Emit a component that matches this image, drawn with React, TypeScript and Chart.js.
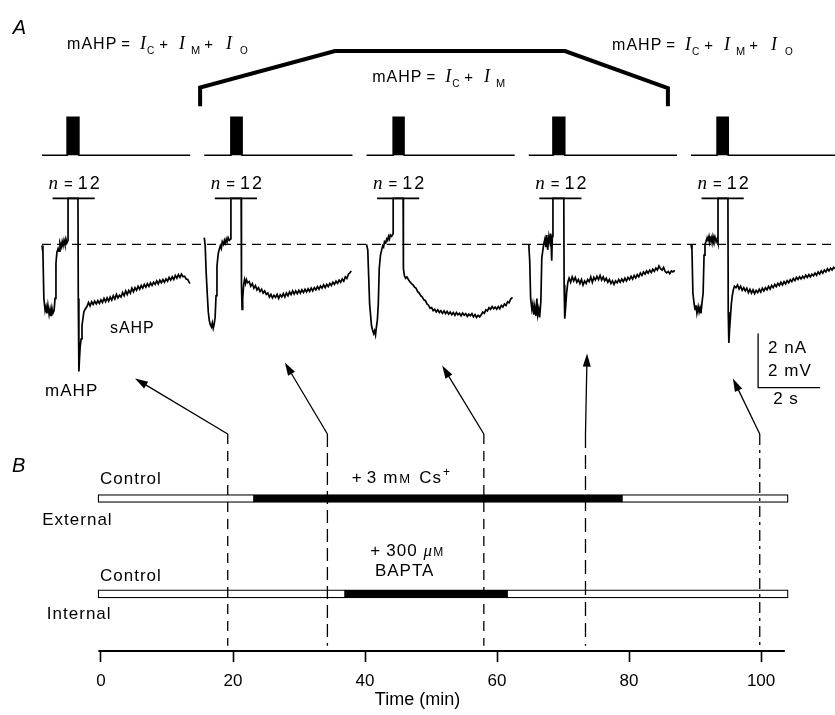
import React, { useEffect, useRef } from 'react';
import { Chart, registerables } from 'chart.js';

Chart.register(...registerables);

// ---------------- Panel B data (time in min) ----------------
const TIME_TICKS = [0, 20, 40, 60, 80, 100];
const TIME_AXIS_SPAN = [-0.4, 103.6];
const EXTERNAL_BOUNDS = [-0.45, 23.2, 78.9, 104.1]; // control | + 3 mM Cs+ | wash
const EXTERNAL_TREATED = [false, true, false];
const INTERNAL_BOUNDS = [-0.45, 37.0, 61.5, 104.1]; // control | + 300 uM BAPTA | after
const INTERNAL_TREATED = [false, true, false];
const SAMPLE_TIMES = [19.2, 34.3, 58.0, 73.4, 99.8];

// ---------------- Panel A data (sweep time in s, current in nA) ----------------
const SWEEP_1: number[][] = [
  [0, -0.04], [0.03, -0.3], [0.06, -2.0], [0.1, -2.45], [0.13, -2.3], [0.16, -2.55], [0.19, -2.25], [0.23, -2.6],
  [0.26, -2.4], [0.29, -2.65], [0.32, -2.35], [0.35, -2.55], [0.39, -2.45], [0.42, -2.0], [0.45, -0.7], [0.48, -0.3],
  [0.52, -0.15], [0.55, -0.25], [0.58, 0.05], [0.62, -0.1], [0.65, 0.1], [0.68, -0.05], [0.71, 0.15], [0.74, 0.0],
  [0.77, 0.2], [0.8, 0.05], [0.84, 0.15], [0.84, 1.7], [1.16, 1.7], [1.17, -2.0], [1.19, -4.7], [1.21, -4.2],
  [1.23, -3.8], [1.26, -3.5], [1.29, -3.0], [1.32, -2.75], [1.35, -2.5], [1.39, -2.4], [1.45, -2.3], [1.5, -2.15],
  [1.55, -2.28], [1.6, -2.12], [1.65, -2.22], [1.7, -2.1], [1.75, -2.2], [1.8, -2.08], [1.85, -2.18], [1.9, -2.05],
  [1.95, -2.15], [2.0, -2.0], [2.05, -2.12], [2.1, -1.98], [2.15, -2.1], [2.2, -1.95], [2.25, -2.06], [2.3, -1.9],
  [2.35, -2.02], [2.4, -1.85], [2.45, -1.98], [2.5, -1.88], [2.55, -1.95], [2.6, -1.78], [2.65, -1.9], [2.7, -1.72],
  [2.75, -1.85], [2.8, -1.7], [2.85, -1.8], [2.9, -1.62], [2.95, -1.75], [3.0, -1.6], [3.05, -1.7], [3.1, -1.55],
  [3.15, -1.66], [3.2, -1.52], [3.25, -1.62], [3.3, -1.48], [3.35, -1.58], [3.4, -1.45], [3.45, -1.55], [3.5, -1.42],
  [3.55, -1.52], [3.6, -1.4], [3.65, -1.48], [3.7, -1.35], [3.75, -1.46], [3.8, -1.32], [3.85, -1.42], [3.9, -1.3],
  [3.95, -1.4], [4.0, -1.28], [4.05, -1.36], [4.1, -1.22], [4.15, -1.32], [4.2, -1.2], [4.25, -1.3], [4.3, -1.15],
  [4.35, -1.25], [4.4, -1.12], [4.45, -1.22], [4.5, -1.1], [4.55, -1.2], [4.6, -1.18], [4.65, -1.28], [4.7, -1.3],
  [4.77, -1.45],
];
const SWEEP_2: number[][] = [
  [0, 0.25], [0.03, -0.05], [0.06, -1.0], [0.1, -1.9], [0.13, -2.5], [0.16, -2.8], [0.19, -2.95], [0.23, -3.05],
  [0.26, -2.9], [0.29, -3.1], [0.32, -2.95], [0.35, -2.7], [0.38, -1.9], [0.41, -0.8], [0.45, -0.35], [0.48, -0.2],
  [0.52, -0.05], [0.55, -0.15], [0.58, 0.1], [0.62, 0.0], [0.65, 0.15], [0.68, 0.05], [0.71, 0.2], [0.74, 0.1],
  [0.77, 0.25], [0.81, 0.15], [0.86, 0.2], [0.86, 1.7], [1.19, 1.7], [1.2, -1.5], [1.22, -2.4], [1.24, -2.0],
  [1.27, -1.5], [1.3, -1.3], [1.33, -1.45], [1.36, -1.3], [1.4, -1.42], [1.45, -1.38], [1.5, -1.55], [1.55, -1.45],
  [1.6, -1.62], [1.65, -1.52], [1.7, -1.68], [1.75, -1.6], [1.8, -1.74], [1.85, -1.66], [1.9, -1.8], [1.95, -1.72],
  [2.0, -1.85], [2.05, -1.8], [2.1, -1.95], [2.15, -1.85], [2.2, -1.98], [2.25, -1.88], [2.3, -1.96], [2.35, -1.85],
  [2.4, -2.0], [2.45, -1.86], [2.5, -1.94], [2.55, -1.82], [2.6, -1.95], [2.65, -1.8], [2.7, -1.9], [2.75, -1.76],
  [2.8, -1.86], [2.85, -1.72], [2.9, -1.84], [2.95, -1.72], [3.0, -1.82], [3.05, -1.7], [3.1, -1.8], [3.15, -1.68],
  [3.2, -1.78], [3.25, -1.66], [3.3, -1.76], [3.35, -1.64], [3.4, -1.74], [3.45, -1.62], [3.5, -1.72], [3.55, -1.6],
  [3.6, -1.68], [3.65, -1.56], [3.7, -1.66], [3.75, -1.54], [3.8, -1.62], [3.85, -1.5], [3.9, -1.6], [3.95, -1.48],
  [4.0, -1.56], [4.05, -1.44], [4.1, -1.52], [4.15, -1.4], [4.2, -1.48], [4.25, -1.36], [4.3, -1.44], [4.35, -1.32],
  [4.4, -1.4], [4.45, -1.28], [4.5, -1.36], [4.55, -1.2], [4.6, -1.26], [4.65, -1.1], [4.7, -1.05], [4.74, -0.98],
];
const SWEEP_3: number[][] = [
  [0, 0.0], [0.04, -0.2], [0.07, -1.2], [0.1, -2.2], [0.13, -2.6], [0.16, -3.0], [0.19, -3.15], [0.23, -3.3],
  [0.26, -3.2], [0.29, -3.35], [0.32, -3.05], [0.35, -2.8], [0.38, -2.2], [0.41, -0.9], [0.45, -0.4], [0.48, -0.25],
  [0.52, -0.05], [0.55, -0.1], [0.58, 0.1], [0.62, 0.05], [0.65, 0.2], [0.68, 0.15], [0.71, 0.3], [0.74, 0.2],
  [0.77, 0.35], [0.81, 0.3], [0.86, 0.4], [0.86, 1.7], [1.18, 1.7], [1.19, -0.9], [1.22, -1.15], [1.26, -1.25],
  [1.3, -1.2], [1.35, -1.3], [1.4, -1.38], [1.45, -1.45], [1.5, -1.5], [1.55, -1.58], [1.6, -1.62], [1.65, -1.75],
  [1.7, -1.8], [1.75, -1.9], [1.8, -1.95], [1.85, -2.05], [1.9, -2.08], [1.95, -2.2], [2.0, -2.25], [2.05, -2.36],
  [2.1, -2.34], [2.15, -2.45], [2.2, -2.4], [2.25, -2.5], [2.3, -2.42], [2.35, -2.52], [2.4, -2.45], [2.45, -2.55],
  [2.5, -2.46], [2.55, -2.56], [2.6, -2.48], [2.65, -2.58], [2.7, -2.5], [2.75, -2.6], [2.8, -2.52], [2.85, -2.62],
  [2.9, -2.52], [2.95, -2.6], [3.0, -2.55], [3.05, -2.64], [3.1, -2.54], [3.15, -2.62], [3.2, -2.56], [3.25, -2.66],
  [3.3, -2.58], [3.35, -2.64], [3.4, -2.56], [3.45, -2.68], [3.5, -2.6], [3.55, -2.7], [3.6, -2.62], [3.65, -2.68],
  [3.7, -2.6], [3.75, -2.5], [3.8, -2.55], [3.85, -2.42], [3.9, -2.46], [3.95, -2.34], [4.0, -2.4], [4.05, -2.3],
  [4.1, -2.38], [4.15, -2.32], [4.2, -2.4], [4.25, -2.3], [4.3, -2.38], [4.35, -2.26], [4.4, -2.32], [4.45, -2.2],
  [4.5, -2.26], [4.55, -2.12], [4.6, -2.16], [4.65, -2.02], [4.71, -1.96],
];
const SWEEP_4: number[][] = [
  [0, 0.0], [0.03, -0.6], [0.06, -2.0], [0.1, -2.4], [0.13, -2.2], [0.16, -2.6], [0.19, -2.3], [0.23, -2.65],
  [0.26, -2.0], [0.29, -2.6], [0.32, -2.4], [0.35, -2.7], [0.39, -2.1], [0.42, -0.5], [0.45, -0.25], [0.48, 0.0],
  [0.52, 0.2], [0.55, -0.1], [0.58, 0.35], [0.61, -0.2], [0.65, 0.3], [0.68, 0.1], [0.71, 0.4], [0.74, -0.6],
  [0.76, 0.3], [0.78, 0.45], [0.78, 1.7], [1.13, 1.7], [1.14, -1.5], [1.16, -2.75], [1.19, -2.3], [1.22, -1.8],
  [1.26, -1.4], [1.3, -1.25], [1.35, -1.4], [1.4, -1.2], [1.45, -1.35], [1.5, -1.22], [1.55, -1.4], [1.6, -1.3],
  [1.65, -1.45], [1.7, -1.3], [1.75, -1.5], [1.8, -1.35], [1.85, -1.45], [1.9, -1.3], [1.95, -1.38], [2.0, -1.2],
  [2.05, -1.4], [2.1, -1.22], [2.15, -1.32], [2.2, -1.18], [2.25, -1.3], [2.3, -1.15], [2.35, -1.32], [2.4, -1.2],
  [2.45, -1.35], [2.5, -1.25], [2.55, -1.4], [2.6, -1.3], [2.65, -1.45], [2.7, -1.35], [2.75, -1.48], [2.8, -1.35],
  [2.85, -1.42], [2.9, -1.3], [2.95, -1.4], [3.0, -1.28], [3.05, -1.38], [3.1, -1.25], [3.15, -1.35], [3.2, -1.22],
  [3.25, -1.3], [3.3, -1.18], [3.35, -1.28], [3.4, -1.15], [3.45, -1.24], [3.5, -1.12], [3.55, -1.2], [3.6, -1.06],
  [3.65, -1.15], [3.7, -1.02], [3.75, -1.1], [3.8, -0.98], [3.85, -1.06], [3.9, -0.95], [3.95, -1.04], [4.0, -0.92],
  [4.05, -1.0], [4.1, -0.88], [4.15, -0.95], [4.2, -0.8], [4.25, -0.9], [4.3, -0.95], [4.35, -0.85], [4.4, -1.0],
  [4.45, -1.05], [4.5, -1.0], [4.55, -1.08], [4.6, -0.98], [4.65, -1.02], [4.71, -0.96],
];
const SWEEP_5: number[][] = [
  [0, 0.0], [0.03, -0.2], [0.06, -1.8], [0.1, -2.2], [0.13, -2.4], [0.16, -2.25], [0.19, -2.55], [0.23, -2.3],
  [0.26, -2.5], [0.29, -2.35], [0.32, -2.55], [0.35, -2.2], [0.39, -1.8], [0.42, -0.4], [0.45, 0.0], [0.48, 0.1],
  [0.52, 0.25], [0.55, 0.15], [0.58, 0.3], [0.61, 0.1], [0.65, 0.25], [0.68, 0.05], [0.71, 0.3], [0.74, 0.15],
  [0.77, 0.28], [0.81, 0.1], [0.84, 0.2], [0.87, 0.05], [0.87, 1.7], [1.19, 1.7], [1.2, -2.5], [1.22, -3.65],
  [1.24, -3.2], [1.27, -2.7], [1.3, -2.2], [1.33, -1.9], [1.36, -1.7], [1.4, -1.55], [1.45, -1.6], [1.5, -1.5],
  [1.55, -1.65], [1.6, -1.55], [1.65, -1.7], [1.7, -1.6], [1.75, -1.72], [1.8, -1.62], [1.85, -1.78], [1.9, -1.66],
  [1.95, -1.8], [2.0, -1.68], [2.05, -1.82], [2.1, -1.7], [2.15, -1.78], [2.2, -1.66], [2.25, -1.76], [2.3, -1.62],
  [2.35, -1.72], [2.4, -1.6], [2.45, -1.68], [2.5, -1.55], [2.55, -1.65], [2.6, -1.52], [2.65, -1.6], [2.7, -1.48],
  [2.75, -1.56], [2.8, -1.44], [2.85, -1.52], [2.9, -1.4], [2.95, -1.5], [3.0, -1.38], [3.05, -1.46], [3.1, -1.34],
  [3.15, -1.42], [3.2, -1.3], [3.25, -1.38], [3.3, -1.26], [3.35, -1.34], [3.4, -1.22], [3.45, -1.3], [3.5, -1.2],
  [3.55, -1.28], [3.6, -1.18], [3.65, -1.25], [3.7, -1.14], [3.75, -1.22], [3.8, -1.12], [3.85, -1.2], [3.9, -1.1],
  [3.95, -1.16], [4.0, -1.06], [4.05, -1.14], [4.1, -1.02], [4.15, -1.1], [4.2, -0.98], [4.25, -1.06], [4.3, -0.95],
  [4.35, -1.02], [4.4, -0.9], [4.45, -0.98], [4.5, -0.88], [4.55, -0.95], [4.6, -0.85], [4.65, -0.9],
];
const STIM_PULSES = [[0.81, 1.19], [0.86, 1.22], [0.86, 1.21], [0.78, 1.16], [0.84, 1.2]];
const STIM_SWEEP_LENGTH = 4.78;
const CLIP_LEVEL_NA = 1.7; // traces truncated at the "n = 12" bar
const CLIP_BAR_S = [0.34, 1.7];
const ARROW_TIP_S = [3.0, 2.6, 2.44, 1.88, 1.35];
const ARROW_TIP_NA = [-4.96, -4.37, -4.48, -4.04, -4.96];
const SCALE_BAR_NA = 2;
const SCALE_BAR_S = 2;

// ---------------- layout ----------------
const W = 835;
const H = 715;
const SWEEP_SPACING_S = 5.234;
const XA_RANGE = [-1.355, 25.58];
const YA_RANGE = [-15.04, 9.04];
const XT_RANGE = [-15.3, 111.2];
const YB_RANGE = [0, 11.4];
const EXT_ROW = 2.67;
const INT_ROW = 1;
const DASH_TOP = 3.8;
const DASH_BOTTOM = 0.09;
const STIM_BASE = 3.3;
const STIM_AMP = 1.4;
const SCALE_BAR_ORIGIN = [23.1, -5.3];
const BRACKET = [[5.1, 5.11], [5.1, 5.8], [9.45, 7.15], [16.87, 7.15], [20.19, 5.78], [20.19, 5.11]];
const DASHES = [[10, 7], [13, 6], [10, 7], [14, 7], [11, 5, 3, 5]];

const SANS = '"Liberation Sans", Arial, Helvetica, sans-serif';
const SERIF = '"Liberation Serif", "Times New Roman", serif';
const BLACK = '#000';

const sans = (px: number) => `${px}px ${SANS}`;
const iSerif = (px: number) => `italic ${px}px ${SERIF}`;
const iSans = (px: number) => `italic ${px}px ${SANS}`;

type Run = { t: string; f: string; gap?: number; dy?: number; ls?: number };

const formulaRuns = (withO: boolean): Run[] => {
  const runs: Run[] = [
    { t: 'mAHP', f: sans(16), ls: 1 },
    { t: '=', f: sans(15), gap: 4 },
    { t: 'I', f: iSerif(18), gap: 10 },
    { t: 'C', f: sans(10), gap: 1, dy: 5 },
    { t: '+', f: sans(15), gap: 5 },
    { t: 'I', f: iSerif(18), gap: 11 },
    { t: 'M', f: sans(11), gap: 6, dy: 5 },
  ];
  if (withO) {
    runs.push({ t: '+', f: sans(15), gap: 4 });
    runs.push({ t: 'I', f: iSerif(18), gap: 13 });
    runs.push({ t: 'O', f: sans(10), gap: 8, dy: 5 });
  }
  return runs;
};

function drawRuns(ctx: CanvasRenderingContext2D, runs: Run[], x: number, y: number, align: 'left' | 'center' = 'left') {
  const c = ctx as any;
  const widths = runs.map((r) => {
    ctx.font = r.f;
    c.letterSpacing = `${r.ls ?? 0}px`;
    return ctx.measureText(r.t).width;
  });
  const total = runs.reduce((a, r, i) => a + (r.gap ?? 0) + widths[i], 0);
  let cx = align === 'center' ? x - total / 2 : x;
  runs.forEach((r, i) => {
    cx += r.gap ?? 0;
    ctx.font = r.f;
    c.letterSpacing = `${r.ls ?? 0}px`;
    ctx.fillText(r.t, cx, y + (r.dy ?? 0));
    cx += widths[i];
  });
  c.letterSpacing = '0px';
}

function drawArrow(ctx: CanvasRenderingContext2D, x0: number, y0: number, x1: number, y1: number) {
  const ang = Math.atan2(y1 - y0, x1 - x0);
  const L = 13;
  const hw = 4;
  ctx.beginPath();
  ctx.moveTo(x0, y0);
  ctx.lineTo(x1 - (L - 2) * Math.cos(ang), y1 - (L - 2) * Math.sin(ang));
  ctx.lineWidth = 1.3;
  ctx.stroke();
  ctx.beginPath();
  ctx.moveTo(x1, y1);
  ctx.lineTo(x1 - L * Math.cos(ang) + hw * Math.sin(ang), y1 - L * Math.sin(ang) - hw * Math.cos(ang));
  ctx.lineTo(x1 - L * Math.cos(ang) - hw * Math.sin(ang), y1 - L * Math.sin(ang) + hw * Math.cos(ang));
  ctx.closePath();
  ctx.fill();
}

const annotations = {
  id: 'figureAnnotations',
  afterDatasetsDraw(chart: any) {
    const { ctx, scales } = chart;
    const pa = (s: number, v: number) => [scales.xA.getPixelForValue(s), scales.yA.getPixelForValue(v)];
    const pb = (t: number, u: number) => [scales.xT.getPixelForValue(t), scales.yB.getPixelForValue(u)];
    ctx.save();
    ctx.fillStyle = BLACK;
    ctx.strokeStyle = BLACK;
    ctx.textBaseline = 'alphabetic';
    ctx.textAlign = 'left';

    // arrows from sampling times (panel B) to the sweeps (panel A)
    SAMPLE_TIMES.forEach((t, k) => {
      const [x0, y0] = pb(t, DASH_TOP);
      const [x1, y1] = pa(k * SWEEP_SPACING_S + ARROW_TIP_S[k], ARROW_TIP_NA[k]);
      drawArrow(ctx, x0, y0, x1, y1);
    });

    // panel letters
    let p = pa(-0.94, 7.78);
    drawRuns(ctx, [{ t: 'A', f: iSans(20) }], p[0], p[1]);
    p = pb(-13.5, 3.14);
    drawRuns(ctx, [{ t: 'B', f: iSans(20) }], p[0], p[1]);

    // formulas
    p = pa(0.81, 7.22);
    drawRuns(ctx, formulaRuns(true), p[0], p[1]);
    p = pa(10.65, 6.0);
    drawRuns(ctx, formulaRuns(false), p[0], p[1]);
    p = pa(18.39, 7.19);
    drawRuns(ctx, formulaRuns(true), p[0], p[1]);

    // n = 12 labels
    for (let k = 0; k < 5; k++) {
      const c = pa(k * SWEEP_SPACING_S + (CLIP_BAR_S[0] + CLIP_BAR_S[1]) / 2 + 0.05, 2.04);
      drawRuns(ctx, [
        { t: 'n', f: iSerif(19) },
        { t: '=', f: sans(15), gap: 6 },
        { t: '12', f: sans(18), gap: 5, ls: 2 },
      ], c[0], c[1], 'center');
    }

    p = pa(2.19, -3.26);
    drawRuns(ctx, [{ t: 'sAHP', f: sans(16), ls: 1 }], p[0], p[1]);
    p = pa(0.1, -5.59);
    drawRuns(ctx, [{ t: 'mAHP', f: sans(17), ls: 1 }], p[0], p[1]);

    // scale bar labels
    p = pa(23.42, -4.0);
    drawRuns(ctx, [{ t: '2 nA', f: sans(17), ls: 1 }], p[0], p[1]);
    p = pa(23.42, -4.85);
    drawRuns(ctx, [{ t: '2 mV', f: sans(17), ls: 1 }], p[0], p[1]);
    p = pa(24.0, -5.89);
    drawRuns(ctx, [{ t: '2 s', f: sans(17), ls: 1 }], p[0], p[1], 'center');

    // panel B labels
    p = pb(-0.15, 2.93);
    drawRuns(ctx, [{ t: 'Control', f: sans(17), ls: 1 }], p[0], p[1]);
    p = pb(-8.9, 2.21);
    drawRuns(ctx, [{ t: 'External', f: sans(17), ls: 1 }], p[0], p[1]);
    p = pb(38.0, 2.95);
    drawRuns(ctx, [
      { t: '+', f: sans(17) },
      { t: '3', f: sans(17), gap: 5 },
      { t: 'm', f: sans(17), gap: 7 },
      { t: 'M', f: sans(13), gap: 2 },
      { t: 'Cs', f: sans(17), gap: 9, ls: 1 },
      { t: '+', f: sans(12), gap: 1, dy: -7 },
    ], p[0], p[1]);
    p = pb(40.8, 1.67);
    drawRuns(ctx, [
      { t: '+', f: sans(17) },
      { t: '300', f: sans(17), gap: 6, ls: 1 },
      { t: 'μ', f: iSerif(17), gap: 6 },
      { t: 'M', f: sans(12), gap: 1 },
    ], p[0], p[1]);
    p = pb(41.5, 1.32);
    drawRuns(ctx, [{ t: 'BAPTA', f: sans(17), ls: 1 }], p[0], p[1]);
    p = pb(-0.15, 1.23);
    drawRuns(ctx, [{ t: 'Control', f: sans(17), ls: 1 }], p[0], p[1]);
    p = pb(-8.2, 0.56);
    drawRuns(ctx, [{ t: 'Internal', f: sans(17), ls: 1 }], p[0], p[1]);

    ctx.restore();
  },
};

const lineA = (data: { x: number; y: number }[], extra: any = {}) => ({
  type: 'line',
  data,
  xAxisID: 'xA',
  yAxisID: 'yA',
  borderColor: BLACK,
  borderWidth: 1.4,
  pointRadius: 0,
  tension: 0,
  fill: false,
  clip: false,
  ...extra,
});

const lineB = (data: { x: number; y: number }[], extra: any = {}) => ({
  ...lineA(data, extra),
  xAxisID: 'xT',
  yAxisID: 'yB',
});

function buildDatasets() {
  const ds: any[] = [];
  const sweeps = [SWEEP_1, SWEEP_2, SWEEP_3, SWEEP_4, SWEEP_5];
  sweeps.forEach((sw, k) => {
    const off = k * SWEEP_SPACING_S;
    ds.push(lineA(sw.map(([t, v]) => ({ x: off + t, y: v })), { borderWidth: 1.7 }));
    const [p0, p1] = STIM_PULSES[k];
    const stim = [[0, 0], [p0, 0], [p0, 1], [p1, 1], [p1, 0], [STIM_SWEEP_LENGTH, 0]];
    ds.push(lineA(stim.map(([t, v]) => ({ x: off + t, y: STIM_BASE + STIM_AMP * v })), {
      fill: { value: STIM_BASE },
      backgroundColor: BLACK,
      borderWidth: 1.6,
    }));
    ds.push(lineA([
      { x: off + CLIP_BAR_S[0], y: CLIP_LEVEL_NA },
      { x: off + CLIP_BAR_S[1], y: CLIP_LEVEL_NA },
    ], { borderWidth: 1.8 }));
  });
  // holding-current reference line
  ds.push(lineA([{ x: 0, y: 0 }, { x: XA_RANGE[1], y: 0 }], { borderDash: [9, 6], borderWidth: 1.4 }));
  // scale bar
  const [sx, sy] = SCALE_BAR_ORIGIN;
  ds.push(lineA([
    { x: sx, y: sy + SCALE_BAR_NA },
    { x: sx, y: sy },
    { x: sx + SCALE_BAR_S, y: sy },
  ], { borderWidth: 1.3 }));
  // bracket over Cs+ sweeps
  ds.push(lineA(BRACKET.map(([x, y]) => ({ x, y })), { borderWidth: 4, borderJoinStyle: 'miter' }));

  // panel B: sampling dashed lines
  SAMPLE_TIMES.forEach((t, k) => {
    ds.push(lineB([{ x: t, y: DASH_TOP }, { x: t, y: DASH_BOTTOM }], { borderDash: DASHES[k], borderWidth: 1.3 }));
  });
  // time axis baseline
  ds.push(lineB([{ x: TIME_AXIS_SPAN[0], y: 0 }, { x: TIME_AXIS_SPAN[1], y: 0 }], { borderWidth: 2 }));

  // treatment bars
  const segs: any[] = [];
  const fills: string[] = [];
  const addRow = (bounds: number[], treated: boolean[], row: number) => {
    for (let i = 0; i < bounds.length - 1; i++) {
      segs.push({ x: [bounds[i], bounds[i + 1]], y: row });
      fills.push(treated[i] ? BLACK : '#fff');
    }
  };
  addRow(EXTERNAL_BOUNDS, EXTERNAL_TREATED, EXT_ROW);
  addRow(INTERNAL_BOUNDS, INTERNAL_TREATED, INT_ROW);
  ds.push({
    type: 'bar',
    indexAxis: 'y',
    xAxisID: 'xT',
    yAxisID: 'yB',
    data: segs,
    backgroundColor: fills,
    borderColor: BLACK,
    borderWidth: 1.3,
    borderSkipped: false,
    barThickness: 8,
    grouped: false,
    clip: false,
  });
  return ds;
}

export default function App() {
  const ref = useRef<HTMLCanvasElement | null>(null);
  useEffect(() => {
    if (!ref.current) return;
    const chart = new Chart(ref.current, {
      type: 'line',
      data: { datasets: buildDatasets() },
      plugins: [annotations],
      options: {
        animation: false,
        responsive: false,
        maintainAspectRatio: false,
        devicePixelRatio: 1,
        events: [],
        layout: { padding: { left: 0, right: 0, top: 0, bottom: 4 } },
        plugins: { legend: { display: false }, tooltip: { enabled: false }, title: { display: false } },
        scales: {
          xT: {
            type: 'linear',
            axis: 'x',
            position: 'bottom',
            min: XT_RANGE[0],
            max: XT_RANGE[1],
            offset: false,
            afterBuildTicks: (scale: any) => {
              scale.ticks = TIME_TICKS.map((v) => ({ value: v }));
            },
            grid: { offset: false, drawOnChartArea: false, drawTicks: true, tickLength: 11, tickColor: BLACK, tickWidth: 1.6 },
            border: { display: false },
            ticks: {
              color: BLACK,
              font: { family: SANS, size: 17, lineHeight: 1.0 },
              padding: 11,
              autoSkip: false,
              maxRotation: 0,
            },
            title: {
              display: true,
              text: 'Time (min)',
              color: BLACK,
              font: { family: SANS, size: 18, lineHeight: 1.0 },
              padding: { top: -10, bottom: 2 },
            },
          },
          xA: { type: 'linear', axis: 'x', display: false, offset: false, min: XA_RANGE[0], max: XA_RANGE[1] },
          yA: { type: 'linear', axis: 'y', display: false, offset: false, min: YA_RANGE[0], max: YA_RANGE[1] },
          yB: { type: 'linear', axis: 'y', display: false, offset: false, grid: { offset: false }, min: YB_RANGE[0], max: YB_RANGE[1] },
        },
      } as any,
    } as any);
    return () => chart.destroy();
  }, []);
  return (
    <div style={{ position: 'absolute', left: 0, top: 0, width: W, height: H, background: '#fff' }}>
      <canvas ref={ref} width={W} height={H} style={{ display: 'block', width: W, height: H }} />
    </div>
  );
}
